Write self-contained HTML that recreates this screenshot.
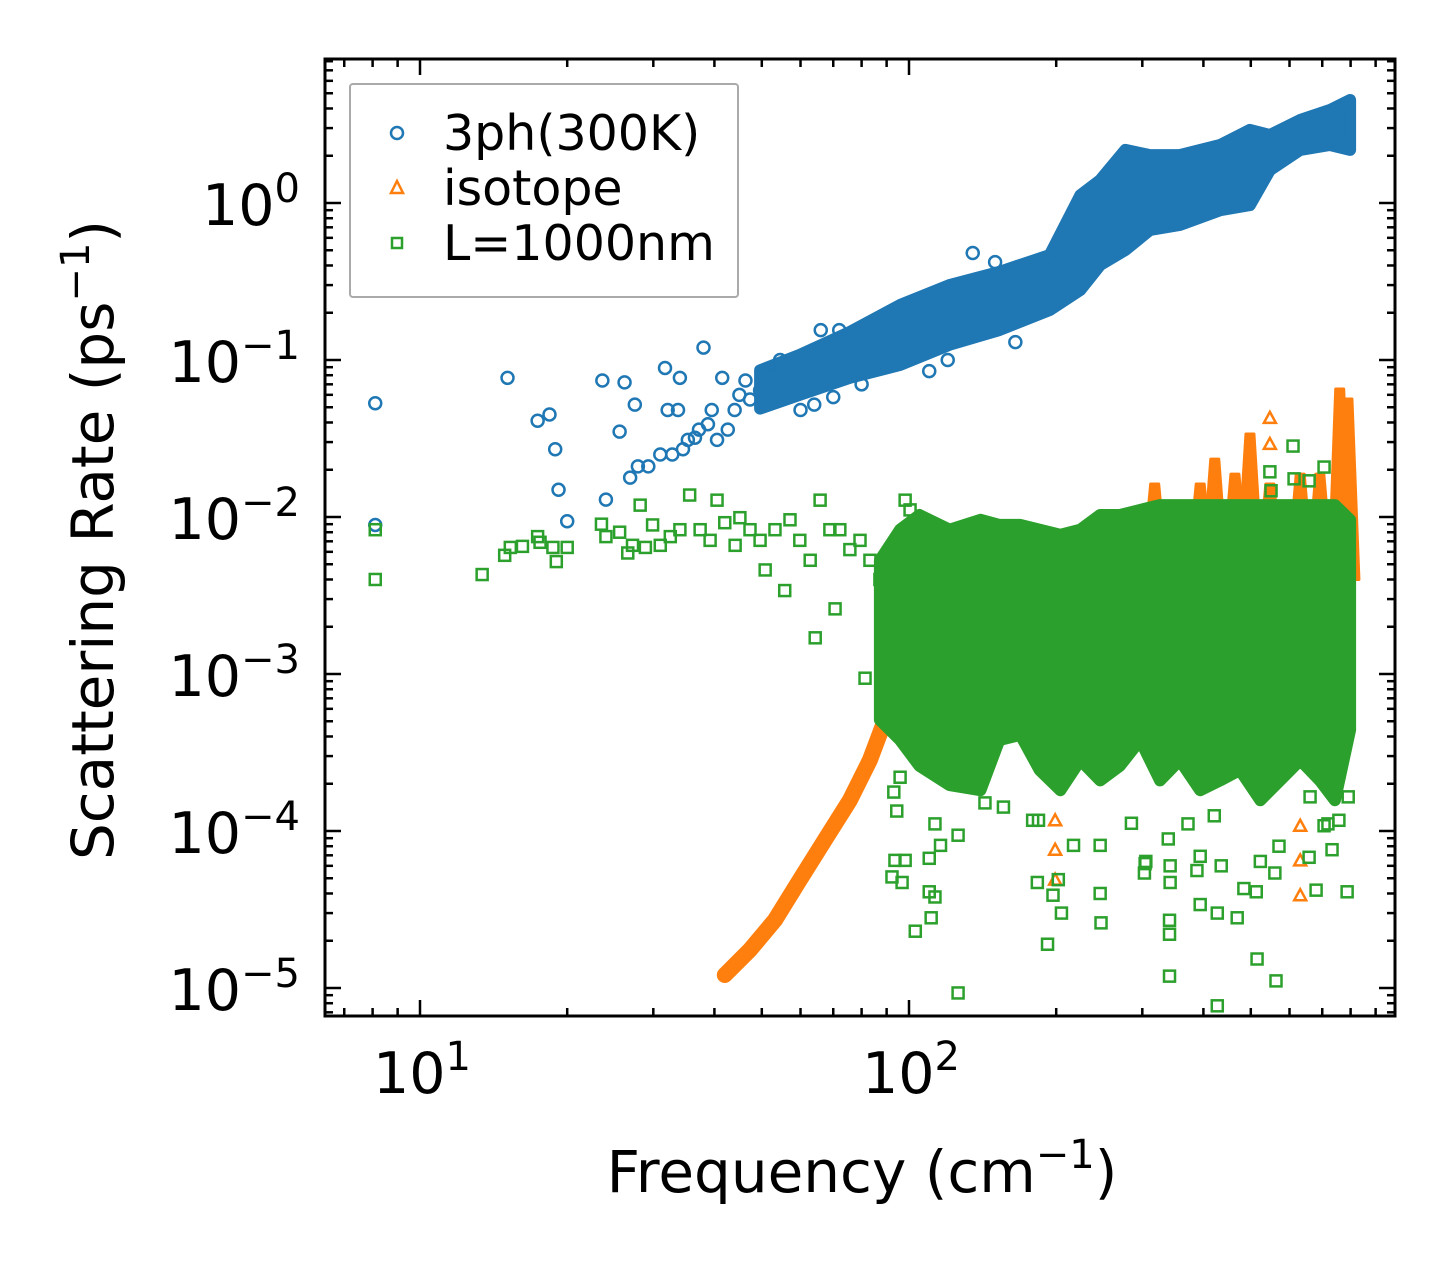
<!DOCTYPE html>
<html><head><meta charset="utf-8"><style>
html,body{margin:0;padding:0;background:#fff;}
svg{display:block;font-family:"DejaVu Sans","Liberation Sans",sans-serif;}
</style></head><body>
<svg id="chart" width="1455" height="1265" viewBox="0 0 1455 1265" xmlns="http://www.w3.org/2000/svg">
<rect x="0" y="0" width="1455" height="1265" fill="#fff"/>
<defs><clipPath id="plotclip"><rect x="325" y="59" width="1070" height="957"/></clipPath></defs>
<g id="marks" clip-path="url(#plotclip)"></g>
<g id="axes"></g>
<text x="862" y="1192" font-size="58" text-anchor="middle">Frequency (cm<tspan dy="-24" font-size="40">−1</tspan><tspan dy="24">)</tspan></text>
<text transform="translate(113,540) rotate(-90)" font-size="58" text-anchor="middle">Scattering Rate (ps<tspan dy="-24" font-size="40">−1</tspan><tspan dy="24">)</tspan></text>
<g>
<rect x="350" y="84" width="388" height="213" fill="#fff" fill-opacity="0.8" stroke="#aaa" stroke-width="2" rx="3"/>
<circle cx="397" cy="133" r="6" fill="none" stroke="#1f77b4" stroke-width="2.5"/>
<text x="443" y="150" font-size="49">3ph(300K)</text>
<polygon points="397,181 403,193 391,193" fill="none" stroke="#ff7f0e" stroke-width="2.5"/>
<text x="443" y="205" font-size="49">isotope</text>
<rect x="392" y="238" width="10" height="10" fill="none" stroke="#2ca02c" stroke-width="2.5"/>
<text x="443" y="260" font-size="49">L=1000nm</text>
</g>
</svg>
<script>
// ---- data ----
const blueFreq=[8.1,8.1,15.1,17.4,18.4,18.9,19.2,20.0,23.6,24.0,25.6,26.2,26.9,27.5,27.9,29.3,31.0,31.7,32.1,32.8,33.7,34.0,34.5,35.3,36.5,37.2,38.0,38.8,39.5,40.5,41.5,42.6,44.0,45.0,46.3,47.3,49.6,52,54.5,57,66,72,76,60,64,70,80,90,110,120,135,150,165];
const blueVal=[0.053,0.0089,0.077,0.041,0.045,0.027,0.0149,0.0094,0.074,0.0129,0.035,0.072,0.0178,0.052,0.021,0.021,0.025,0.089,0.048,0.025,0.048,0.077,0.027,0.031,0.032,0.036,0.12,0.039,0.048,0.031,0.077,0.036,0.048,0.06,0.074,0.056,0.064,0.08,0.1,0.069,0.155,0.155,0.13,0.048,0.052,0.058,0.07,0.145,0.085,0.10,0.48,0.42,0.13];
const blueBandFreq=[49.6,59.8,75.7,95.9,121,153,194,224,246,277,311,358,433,498,547,631,726,798];
const blueBandHi=[0.086,0.108,0.151,0.224,0.30,0.364,0.466,1.12,1.40,2.18,2.02,2.02,2.34,2.92,2.71,3.38,3.91,4.53];
const blueBandLo=[0.049,0.060,0.077,0.093,0.125,0.155,0.208,0.279,0.403,0.502,0.673,0.724,0.90,0.97,1.62,2.18,2.34,2.18];

const isoCurveFreq=[42.0,47.3,53.2,59.8,67.3,75.7,83.2,89.3,93.6];
const isoCurveVal=[1.21e-5,1.75e-5,2.71e-5,4.88e-5,8.77e-5,1.57e-4,2.83e-4,5.09e-4,7.9e-4];
const isoSpikeFreq=[185,204,218,246,297,318,394,422,464,498,547,631,692,760,790];
const isoSpikeTop=[6.6e-3,5.7e-3,8.3e-3,0.0103,9.6e-3,0.0172,0.0172,0.0248,0.0199,0.0358,0.0172,0.0199,0.0199,0.0693,0.0598];
const isoFreq=[547,547,624,631,631,631,631,199,199,199];
const isoVal=[0.0428,0.0292,4.1e-4,2.83e-4,1.08e-4,6.5e-5,3.9e-5,1.17e-4,7.6e-5,4.9e-5];

const bdyFreq=[8.1,8.1,13.4,14.9,15.3,16.2,17.4,17.6,18.7,19.0,20.0,23.5,24.0,25.6,26.6,27.2,28.2,28.9,29.9,31.0,32.5,34.0,35.6,37.4,39.2,40.5,42.0,44.1,45.1,47.3,49.6,50.8,53.2,55.7,57.1,59.8,62.8,64.3,65.8,68.9,70.6,72.2,75.7,79.4,81.3,83.2,87.2,89.3,93.6,95.9,98.2,98.2,100.5,105,
92.3,96.8,110,113,111,103,126,183,202,197,205,192,246,247,304,303,342,342,341,341,341,394,388,394,427,435,427,469,484,513,515,523,560,563,680,787,733,658,571,421,372,339,305,285,246,217,184,179,156,143,126,116,110,93.1,94.4,113,719,757,706,791,661,610,706,658,547,613,550,534];
const bdyVal=[0.0083,0.0040,0.0043,0.0057,0.0064,0.0065,0.0075,0.0069,0.0064,0.0052,0.0064,0.0090,0.0075,0.0080,0.0059,0.0066,0.0119,0.0064,0.0089,0.0066,0.0075,0.0083,0.0138,0.0083,0.0071,0.0128,0.0092,0.0066,0.0099,0.0083,0.0071,0.0046,0.0083,0.0034,0.0096,0.0071,0.0053,0.0017,0.0128,0.0083,0.0026,0.0083,0.0062,0.0071,0.00094,0.0053,0.0040,0.00142,6.5e-5,2.2e-4,6.5e-5,0.0128,0.0111,0.0096,
5.1e-5,4.7e-5,4.1e-5,3.8e-5,2.8e-5,2.3e-5,9.3e-6,4.7e-5,4.9e-5,3.9e-5,3.0e-5,1.9e-5,4.0e-5,2.6e-5,6.2e-5,5.4e-5,6.0e-5,4.7e-5,2.7e-5,2.2e-5,1.19e-5,6.9e-5,5.6e-5,3.4e-5,3.0e-5,6.0e-5,7.7e-6,2.8e-5,4.3e-5,4.1e-5,1.53e-5,6.4e-5,5.4e-5,1.11e-5,4.2e-5,4.1e-5,7.6e-5,6.8e-5,8.0e-5,1.25e-4,1.11e-4,8.9e-5,6.4e-5,1.12e-4,8.1e-5,8.1e-5,1.17e-4,1.17e-4,1.42e-4,1.51e-4,9.4e-5,8.1e-5,6.7e-5,1.77e-4,1.34e-4,1.11e-4,1.11e-4,1.17e-4,1.08e-4,1.65e-4,1.65e-4,0.0283,0.0208,0.0170,0.0194,0.0175,0.0147,0.0116];
const bdyBandFreq=[87.2,95.9,105,121,140,153,169,185,204,224,246,270,297,326,358,394,433,475,523,574,631,692,743,798];
const bdyBandHi=[0.0053,0.0083,0.0103,0.0083,0.0096,0.0089,0.0089,0.0083,0.0077,0.0083,0.0103,0.0103,0.0111,0.0119,0.0119,0.0119,0.0119,0.0119,0.0119,0.0119,0.0119,0.0119,0.0119,0.0096];
const bdyBandLo=[5.1e-4,3.8e-4,2.6e-4,1.96e-4,1.82e-4,3.8e-4,4.1e-4,2.45e-4,1.82e-4,2.83e-4,2.1e-4,2.6e-4,3.8e-4,2.1e-4,2.83e-4,1.82e-4,2.1e-4,2.45e-4,1.57e-4,2.1e-4,2.83e-4,2.1e-4,1.57e-4,4.4e-4];

const xMajorTicks=[10,100];
const xMajorLabels=["1","2"];
const yMajorTicks=[1,0.1,0.01,0.001,0.0001,0.00001];
const yMajorLabels=["0","−1","−2","−3","−4","−5"];

// ---- scales ----
const L=325,R=1395,T=59,B=1016;
function X(f){return 420+489*(Math.log10(f)-1);}
function Y(v){return 203-157*Math.log10(v);}
const NS="http://www.w3.org/2000/svg";
const marks=document.getElementById('marks');
const axes=document.getElementById('axes');
function mk(tag,attrs,parent){const e=document.createElementNS(NS,tag);for(const k in attrs)e.setAttribute(k,attrs[k]);parent.appendChild(e);return e;}
const BLUE="#1f77b4",ORANGE="#ff7f0e",GREEN="#2ca02c";

function band(fr,hi,lo,color,name){
  let pts=[];
  for(let i=0;i<fr.length;i++)pts.push(X(fr[i]).toFixed(1)+","+Y(hi[i]).toFixed(1));
  for(let i=fr.length-1;i>=0;i--)pts.push(X(fr[i]).toFixed(1)+","+Y(lo[i]).toFixed(1));
  const p=mk('polygon',{points:pts.join(' '),fill:color,stroke:color,'stroke-width':12,'stroke-linejoin':'round'},marks);
  
  
}

// blue series
band(blueBandFreq,blueBandHi,blueBandLo,BLUE,'3ph-dense-band');
for(let i=0;i<blueFreq.length;i++){
  const c=mk('circle',{cx:X(blueFreq[i]),cy:Y(blueVal[i]),r:6,fill:'none',stroke:BLUE,'stroke-width':2.5},marks);
  
  
}
// orange series
{
  let pts=isoCurveFreq.map((f,i)=>X(f).toFixed(1)+","+Y(isoCurveVal[i]).toFixed(1)).join(' ');
  const pl=mk('polyline',{points:pts,fill:'none',stroke:ORANGE,'stroke-width':16,'stroke-linejoin':'round','stroke-linecap':'round'},marks);
  
  
}
for(let i=0;i<isoSpikeFreq.length;i++){
  const x=X(isoSpikeFreq[i]),yt=Y(isoSpikeTop[i]),yb=Y(0.004);
  const hw=(i>=13)?11:13;
  const s=mk('polygon',{points:`${x-hw},${yb} ${x-4},${yt+4} ${x+4},${yt+4} ${x+hw},${yb}`,fill:ORANGE,stroke:ORANGE,'stroke-width':3,'stroke-linejoin':'round'},marks);
  
  
}
for(let i=0;i<isoFreq.length;i++){
  const x=X(isoFreq[i]),y=Y(isoVal[i]);
  const t=mk('polygon',{points:`${x},${y-6} ${x+6},${y+5} ${x-6},${y+5}`,fill:'none',stroke:ORANGE,'stroke-width':2.5},marks);
  
  
}
// green series
band(bdyBandFreq,bdyBandHi,bdyBandLo,GREEN,'boundary-dense-band');
for(let i=0;i<bdyFreq.length;i++){
  const sq=mk('rect',{x:X(bdyFreq[i])-5.5,y:Y(bdyVal[i])-5.5,width:11,height:11,fill:'none',stroke:GREEN,'stroke-width':2.5},marks);
  
  
}

// ---- axes ----
const frame=mk('rect',{x:L,y:T,width:R-L,height:B-T,fill:'none',stroke:'#000','stroke-width':3},axes);


function tickX(f,len){const x=X(f);if(x<L||x>R)return;
  mk('line',{x1:x,y1:B,x2:x,y2:B-len,stroke:'#000','stroke-width':2.5},axes);
  mk('line',{x1:x,y1:T,x2:x,y2:T+len,stroke:'#000','stroke-width':2.5},axes);}
function tickY(v,len){const y=Y(v);if(y<T||y>B)return;
  mk('line',{x1:L,y1:y,x2:L+len,y2:y,stroke:'#000','stroke-width':2.5},axes);
  mk('line',{x1:R,y1:y,x2:R-len,y2:y,stroke:'#000','stroke-width':2.5},axes);}
for(let d=0;d<3;d++)for(let k=2;k<10;k++)tickX(k*Math.pow(10,d),8);
xMajorTicks.forEach(f=>tickX(f,16));
for(let d=-6;d<1;d++)for(let k=2;k<10;k++)tickY(k*Math.pow(10,d),8);
yMajorTicks.forEach(v=>tickY(v,16));
xMajorTicks.forEach((f,i)=>{
  const t=mk('text',{x:X(f)+2,y:1093,'font-size':57,'text-anchor':'middle'},axes);
  
  
  t.appendChild(document.createTextNode('10'));
  const s=mk('tspan',{dy:-23,'font-size':40},t);s.textContent=xMajorLabels[i];
});
yMajorTicks.forEach((v,i)=>{
  const t=mk('text',{x:300,y:Y(v)+22,'font-size':57,'text-anchor':'end'},axes);
  
  
  t.appendChild(document.createTextNode('10'));
  const s=mk('tspan',{dy:-23,'font-size':40},t);s.textContent=yMajorLabels[i];
});
</script>
</body></html>
